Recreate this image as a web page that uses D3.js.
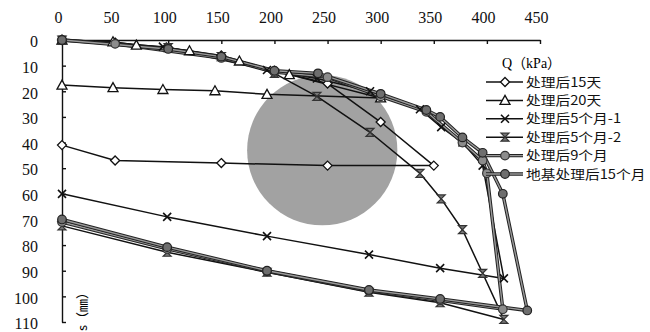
<!DOCTYPE html>
<html><head><meta charset="utf-8">
<script src="https://cdn.jsdelivr.net/npm/d3@7/dist/d3.min.js"></script>
<style>
body{margin:0;background:#fff;}
svg{display:block;}
.ax text{font-family:"Liberation Serif","DejaVu Serif",serif;font-size:16px;fill:#111;}
.ax path,.ax line{stroke:#111;stroke-width:1.4;}
.lg{font-family:"Noto Sans CJK SC",sans-serif;font-size:12.6px;fill:#111;}
</style></head>
<body><svg id="c" width="650" height="332"></svg>
<script>
// ---- data ----
const xTicks = [0,50,100,150,200,250,300,350,400,450];
const yTicks = [0,10,20,30,40,50,60,70,80,90,100,110];
const seriesNames = ["处理后15天","处理后20天","处理后5个月-1","处理后5个月-2","处理后9个月","地基处理后15个月"];
const q15d = [0,50,100,150,200,250,300,350,250,150,50,0];
const s15d = [0,1,3,6,12,17,32,49,49,48,47,41];
const q20d = [0,48,70,120,167,214,300,193,144,95,48,0];
const s20d = [0,0.7,2,4.2,8.2,13.5,22.6,21.2,19.8,19.3,18.6,17.6];
const q5m1 = [0,95,193,240,290,337,357,377,396,416,356,289,193,99,0];
const s5m1 = [0,2.6,11.7,15,20,27,34,40,49,93,89,83.7,76.5,69,60];
const q5m2 = [0,100,150,200,240,290,337,357,377,396,416,356,289,193,99,0];
const s5m2 = [0,3,6.5,13,22,36,52,62,74,91,109,102.5,98.4,90.6,82.8,72.5];
const q9m  = [0,50,150,200,250,300,343,377,396,400,415,356,289,193,99,0];
const s9m  = [0,1.5,7,12.5,14.5,22,28,40,47,52,105,101.5,97.8,90.2,81.5,71];
const q15m = [0,100,150,200,241,300,343,356,377,396,415,438,356,289,193,99,0];
const s15m = [0,3.5,6.5,12,13,21,27.3,30,38,44,60,105.5,101,97.5,90,80.8,70];
// gray highlight disc (data units)
const discQ = 245, discS = 43, discR = 29.3;

const qs = [q15d,q20d,q5m1,q5m2,q9m,q15m];
const ss = [s15d,s20d,s5m1,s5m2,s9m,s15m];

// ---- chart ----
const svg = d3.select("#c");
const x = d3.scaleLinear().domain([0,450]).range([62,540]);
const y = d3.scaleLinear().domain([0,110]).range([40,322]);

// disc
svg.append("circle").attr("cx",x(discQ)).attr("cy",y(discS))
  .attr("r",y(discR)-y(0)).attr("fill","#a2a2a2");

// axes
const gx = svg.append("g").attr("class","ax").attr("transform",`translate(0,${y(0)})`)
  .call(d3.axisTop(x).tickValues(xTicks).tickSizeInner(-4).tickSizeOuter(0).tickPadding(17));
gx.attr("font-family",null).attr("font-size",null);
gx.selectAll("text").attr("dx",-4);
const gy = svg.append("g").attr("class","ax").attr("transform",`translate(${x(0)},0)`)
  .call(d3.axisLeft(y).tickValues(yTicks).tickSizeInner(-4).tickSizeOuter(0).tickPadding(24));
gy.attr("font-family",null).attr("font-size",null);
gy.selectAll("text").attr("dy","0.42em");

// lines
const line = d3.line().x(d=>x(d[0])).y(d=>y(d[1]));
const styles = [
  {w:1.5,c:"#111",dbl:false},
  {w:1.5,c:"#111",dbl:false},
  {w:1.5,c:"#111",dbl:false},
  {w:1.5,c:"#111",dbl:false},
  {w:3.4,c:"#222",dbl:true},
  {w:3.4,c:"#222",dbl:true}
];
const data = qs.map((q,i)=>q.map((v,j)=>[v,ss[i][j]]));
data.forEach((pts,i)=>{
  svg.append("path").attr("d",line(pts)).attr("fill","none")
    .attr("stroke",styles[i].c).attr("stroke-width",styles[i].w).attr("stroke-linejoin","round");
  if(styles[i].dbl){
    svg.append("path").attr("d",line(pts)).attr("fill","none")
      .attr("stroke","#9a9a9a").attr("stroke-width",1.4).attr("stroke-linejoin","round");
  }
});

// markers
function marker(g,i){
  if(i===0){ g.append("path").attr("d","M0,-4.5L4.5,0L0,4.5L-4.5,0Z").attr("fill","#fff").attr("stroke","#111").attr("stroke-width",1.3);}
  else if(i===1){ g.append("path").attr("d","M0,-5L5,4L-5,4Z").attr("fill","#fff").attr("stroke","#111").attr("stroke-width",1.3);}
  else if(i===2){ g.append("path").attr("d","M-4,-4L4,4M4,-4L-4,4").attr("stroke","#111").attr("stroke-width",1.6);}
  else if(i===3){ g.append("path").attr("d","M-4,-4H4L-4,4H4Z").attr("fill","#777").attr("stroke","#333").attr("stroke-width",1.2);}
  else if(i===4){ g.append("circle").attr("r",4.3).attr("fill","#8c8c8c").attr("stroke","#333").attr("stroke-width",1.2);}
  else { g.append("circle").attr("r",4.3).attr("fill","#6e6e6e").attr("stroke","#222").attr("stroke-width",1.2);}
}
data.forEach((pts,i)=>{
  pts.forEach(p=>{
    const g = svg.append("g").attr("transform",`translate(${x(p[0])},${y(p[1])})`);
    marker(g,i);
  });
});

// axis titles
svg.append("text").attr("x",502).attr("y",68)
  .style("font-family","'Liberation Serif','Noto Sans CJK SC',serif").style("font-size","14px").text("Q（kPa）");
svg.append("text").attr("transform","translate(87,331) rotate(-90)")
  .style("font-family","'Noto Sans CJK SC',sans-serif").style("font-size","13px").text("s（㎜）");

// legend
const lg = svg.append("g");
seriesNames.forEach((n,i)=>{
  const ry = 82 + i*18.4;
  const g = lg.append("g").attr("transform",`translate(0,${ry})`);
  if(styles[i].dbl){
    g.append("line").attr("x1",486).attr("x2",523).attr("stroke","#222").attr("stroke-width",3.4);
    g.append("line").attr("x1",486).attr("x2",523).attr("stroke","#9a9a9a").attr("stroke-width",1.4);
  } else {
    g.append("line").attr("x1",486).attr("x2",523).attr("stroke","#111").attr("stroke-width",1.5);
  }
  marker(g.append("g").attr("transform","translate(505,0)"),i);
  g.append("text").attr("class","lg").attr("x",526).attr("y",4.5)
    .attr("transform","translate(526,0) scale(1.17,1) translate(-526,0)").text(n);
});
</script></body></html>
